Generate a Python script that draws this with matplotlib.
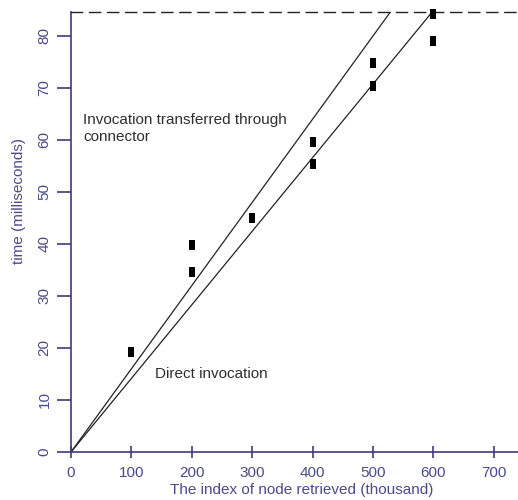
"""Invocation time vs. index of node retrieved (direct vs. through connector)."""

import matplotlib

matplotlib.use("Agg")
from matplotlib import pyplot as plt  # noqa: E402

# measured points (thousand nodes, milliseconds)
INDEX_K = [100, 200, 200, 300, 400, 400, 500, 500, 600, 600]
TIME_MS = [19.3, 39.8, 34.7, 45.0, 59.7, 55.3, 74.7, 70.3, 84.3, 79.1]

# fitted lines through the origin (ms per thousand nodes)
SLOPE_CONNECTOR = 0.160
SLOPE_DIRECT = 0.1415

X_TICKS = [0, 100, 200, 300, 400, 500, 600, 700]
Y_TICKS = [0, 10, 20, 30, 40, 50, 60, 70, 80]
X_MAX = 740
Y_MAX = 84.6

AXIS_COLOR = "#3c3c7a"
LABEL_COLOR = "#4a4a8c"
TEXT_COLOR = "#2e2e2e"

plt.rcParams["font.family"] = ["Liberation Sans", "DejaVu Sans"]

fig = plt.figure(figsize=(5.18, 5.0), dpi=100)
ax = fig.add_axes([71 / 518, 48 / 500, 447 / 518, 440 / 500])

ax.axline((0, 0), slope=SLOPE_CONNECTOR, color="#222222", linewidth=0.9)
ax.axline((0, 0), slope=SLOPE_DIRECT, color="#222222", linewidth=0.9)

bar_marker = [(-0.28, -0.5), (0.28, -0.5), (0.28, 0.5), (-0.28, 0.5)]
ax.scatter(INDEX_K, TIME_MS, marker=bar_marker, s=45, color="black",
           linewidths=0, zorder=5, clip_on=False)

ax.text(20, 62.2, "Invocation transferred through\nconnector", fontsize=11,
        color=TEXT_COLOR, ha="left", va="center", linespacing=1.3)
ax.text(139, 15, "Direct invocation", fontsize=11, color=TEXT_COLOR,
        ha="left", va="center")

ax.set_xlim(0, X_MAX)
ax.set_ylim(0, Y_MAX)
ax.set_xticks(X_TICKS)
ax.set_yticks(Y_TICKS)
ax.set_yticklabels([str(v) for v in Y_TICKS], rotation=90, va="center")

ax.tick_params(axis="x", direction="inout", length=8, width=1.2, color=AXIS_COLOR,
               labelcolor=LABEL_COLOR, labelsize=11, pad=6)
ax.tick_params(axis="y", direction="out", length=10, width=1.2, color=AXIS_COLOR,
               labelcolor=LABEL_COLOR, labelsize=11, pad=4)

ax.spines["right"].set_visible(False)
ax.spines["left"].set_color(AXIS_COLOR)
ax.spines["bottom"].set_color(AXIS_COLOR)
ax.spines["left"].set_linewidth(1.2)
ax.spines["bottom"].set_linewidth(1.2)
ax.spines["top"].set_color("#222222")
ax.spines["top"].set_linewidth(1.0)
ax.spines["top"].set_linestyle((0, (8, 5)))

ax.set_xlabel("The index of node retrieved (thousand)", fontsize=11, color=LABEL_COLOR)
ax.set_ylabel("time (milliseconds)", fontsize=11, color=LABEL_COLOR)
ax.xaxis.set_label_coords(0.517, -0.07)
ax.yaxis.set_label_coords(-0.10, 0.57)

fig.savefig("out.png", dpi=100, facecolor="white")
